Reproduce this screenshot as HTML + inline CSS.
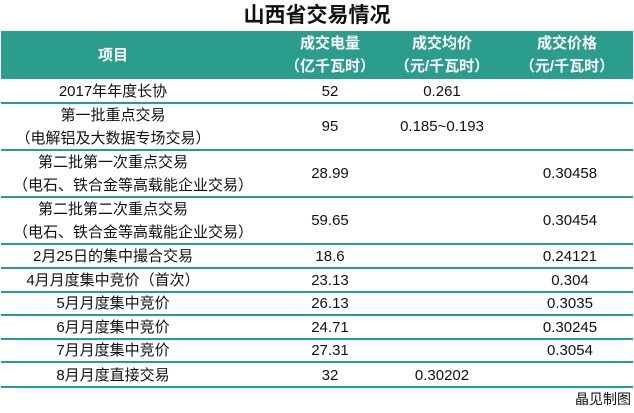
<!DOCTYPE html>
<html><head><meta charset="utf-8"><style>
body{margin:0;width:634px;height:413px;background:#fff;position:relative;overflow:hidden;font-family:"Liberation Sans","Noto Sans CJK SC",sans-serif;color:#111}
.t{position:absolute;left:0;width:634px;top:3px;text-align:center;font-size:21px;font-weight:bold;line-height:26px}
.hd{position:absolute;left:1px;width:632px;top:31px;height:48px;background:#2a9d8c}
.c{position:absolute;text-align:center;font-size:15px;line-height:23px;white-space:nowrap}
.h{color:#fff;font-weight:bold}
.ln{position:absolute;left:1px;width:632px;height:2px;background:#2a9d8c}
</style></head><body>
<div class="t">山西省交易情况</div>
<div class="hd"></div>
<div class="c h" style="left:13px;width:200px;top:44px">项目</div>
<div class="c h" style="left:270px;width:120px;top:32px">成交电量<br>（亿千瓦时）</div>
<div class="c h" style="left:382px;width:120px;top:32px">成交均价<br>（元/千瓦时）</div>
<div class="c h" style="left:507px;width:120px;top:32px">成交价格<br>（元/千瓦时）</div>

<div class="ln" style="top:102px"></div>
<div class="ln" style="top:149px"></div>
<div class="ln" style="top:196px"></div>
<div class="ln" style="top:243px"></div>
<div class="ln" style="top:267px"></div>
<div class="ln" style="top:291px"></div>
<div class="ln" style="top:314px"></div>
<div class="ln" style="top:338px"></div>
<div class="ln" style="top:361px"></div>
<div class="ln" style="top:386px"></div>

<div class="c" style="left:13px;width:200px;top:80px">2017年年度长协</div>
<div class="c" style="left:280px;width:100px;top:80px">52</div>
<div class="c" style="left:392px;width:100px;top:80px">0.261</div>

<div class="c" style="left:13px;width:200px;top:104px">第一批重点交易<br>（电解铝及大数据专场交易）</div>
<div class="c" style="left:280px;width:100px;top:115px">95</div>
<div class="c" style="left:392px;width:100px;top:115px">0.185~0.193</div>

<div class="c" style="left:13px;width:200px;top:151px">第二批第一次重点交易<br>（电石、铁合金等高载能企业交易）</div>
<div class="c" style="left:280px;width:100px;top:162px">28.99</div>
<div class="c" style="left:520px;width:100px;top:162px">0.30458</div>

<div class="c" style="left:13px;width:200px;top:198px">第二批第二次重点交易<br>（电石、铁合金等高载能企业交易）</div>
<div class="c" style="left:280px;width:100px;top:209px">59.65</div>
<div class="c" style="left:520px;width:100px;top:209px">0.30454</div>

<div class="c" style="left:13px;width:200px;top:245px">2月25日的集中撮合交易</div>
<div class="c" style="left:280px;width:100px;top:245px">18.6</div>
<div class="c" style="left:520px;width:100px;top:245px">0.24121</div>

<div class="c" style="left:13px;width:200px;top:269px">4月月度集中竞价（首次）</div>
<div class="c" style="left:280px;width:100px;top:269px">23.13</div>
<div class="c" style="left:520px;width:100px;top:269px">0.304</div>

<div class="c" style="left:13px;width:200px;top:292px">5月月度集中竞价</div>
<div class="c" style="left:280px;width:100px;top:292px">26.13</div>
<div class="c" style="left:520px;width:100px;top:292px">0.3035</div>

<div class="c" style="left:13px;width:200px;top:316px">6月月度集中竞价</div>
<div class="c" style="left:280px;width:100px;top:316px">24.71</div>
<div class="c" style="left:520px;width:100px;top:316px">0.30245</div>

<div class="c" style="left:13px;width:200px;top:339px">7月月度集中竞价</div>
<div class="c" style="left:280px;width:100px;top:339px">27.31</div>
<div class="c" style="left:520px;width:100px;top:339px">0.3054</div>

<div class="c" style="left:13px;width:200px;top:364px">8月月度直接交易</div>
<div class="c" style="left:280px;width:100px;top:364px">32</div>
<div class="c" style="left:392px;width:100px;top:364px">0.30202</div>

<div class="c" style="right:3px;top:388px;font-size:14px">晶见制图</div>
</body></html>
